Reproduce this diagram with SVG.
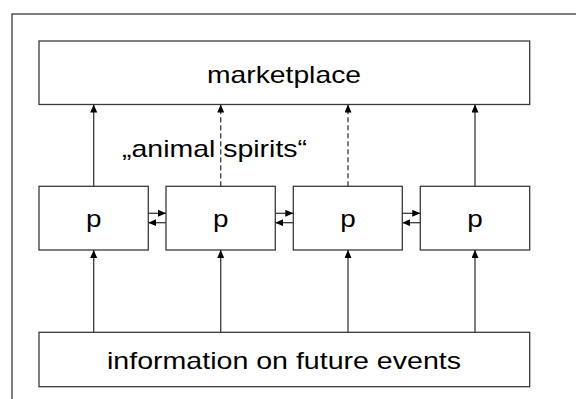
<svg xmlns="http://www.w3.org/2000/svg" width="576" height="399" viewBox="0 0 576 399">
  <style>
    .box { fill: #ffffff; stroke: #3a3a3a; stroke-width: 1.3; }
    .frame { fill: #ffffff; stroke: #3a3a3a; stroke-width: 1.3; }
    .lbl { font-family: "Liberation Sans", Arial, sans-serif; font-size: 24px; fill: #000000; }
    .edge { stroke: #3a3a3a; stroke-width: 1.3; fill: none; marker-end: url(#arrow); }
    .dash { stroke-dasharray: 5 3; }
  </style>
  <defs>
    <marker id="arrow" markerUnits="userSpaceOnUse" markerWidth="9" markerHeight="8" refX="8" refY="3.5" orient="auto">
      <path d="M0,0 L8,3.5 L0,7 z" fill="#000000"/>
    </marker>
  </defs>

  <!-- outer frame -->
  <rect class="frame" x="12" y="14" width="600" height="400"/>

  <g id="marketplace">
    <rect class="box" x="39" y="41" width="490.7" height="63.5"/>
    <text class="lbl" x="284" y="82.5" text-anchor="middle" textLength="154" lengthAdjust="spacingAndGlyphs">marketplace</text>
  </g>

  <g id="p1">
    <rect class="box" x="39" y="186.3" width="109.3" height="63.7"/>
    <text class="lbl" x="93.7" y="226.5" text-anchor="middle" textLength="15.5" lengthAdjust="spacingAndGlyphs">p</text>
  </g>
  <g id="p2">
    <rect class="box" x="166" y="186.3" width="109.3" height="63.7"/>
    <text class="lbl" x="220.7" y="226.5" text-anchor="middle" textLength="15.5" lengthAdjust="spacingAndGlyphs">p</text>
  </g>
  <g id="p3">
    <rect class="box" x="293.3" y="186.3" width="109" height="63.7"/>
    <text class="lbl" x="348" y="226.5" text-anchor="middle" textLength="15.5" lengthAdjust="spacingAndGlyphs">p</text>
  </g>
  <g id="p4">
    <rect class="box" x="420.3" y="186.3" width="109.4" height="63.7"/>
    <text class="lbl" x="475" y="226.5" text-anchor="middle" textLength="15.5" lengthAdjust="spacingAndGlyphs">p</text>
  </g>

  <g id="information">
    <rect class="box" x="39" y="332.3" width="490.7" height="54.4"/>
    <text class="lbl" x="284" y="369.3" text-anchor="middle" textLength="354" lengthAdjust="spacingAndGlyphs">information on future events</text>
  </g>

  <g id="connectors">
    <!-- information to each p -->
    <line class="edge" x1="93.7" y1="332.3" x2="93.7" y2="250"/>
    <line class="edge" x1="220.7" y1="332.3" x2="220.7" y2="250"/>
    <line class="edge" x1="348" y1="332.3" x2="348" y2="250"/>
    <line class="edge" x1="475" y1="332.3" x2="475" y2="250"/>
    <!-- p to marketplace -->
    <line class="edge" x1="93.7" y1="186.3" x2="93.7" y2="104.5"/>
    <line class="edge dash" x1="220.7" y1="186.3" x2="220.7" y2="104.5"/>
    <line class="edge dash" x1="348" y1="186.3" x2="348" y2="104.5"/>
    <line class="edge" x1="475" y1="186.3" x2="475" y2="104.5"/>
    <!-- exchange between neighbouring p -->
    <line class="edge" x1="148.3" y1="213.3" x2="166" y2="213.3"/>
    <line class="edge" x1="166" y1="222.7" x2="148.3" y2="222.7"/>
    <line class="edge" x1="275.3" y1="213.3" x2="293.3" y2="213.3"/>
    <line class="edge" x1="293.3" y1="222.7" x2="275.3" y2="222.7"/>
    <line class="edge" x1="402.3" y1="213.3" x2="420.3" y2="213.3"/>
    <line class="edge" x1="420.3" y1="222.7" x2="402.3" y2="222.7"/>
  </g>

  <text class="lbl" x="122" y="156.5" textLength="185" lengthAdjust="spacingAndGlyphs">„animal spirits“</text>
</svg>
